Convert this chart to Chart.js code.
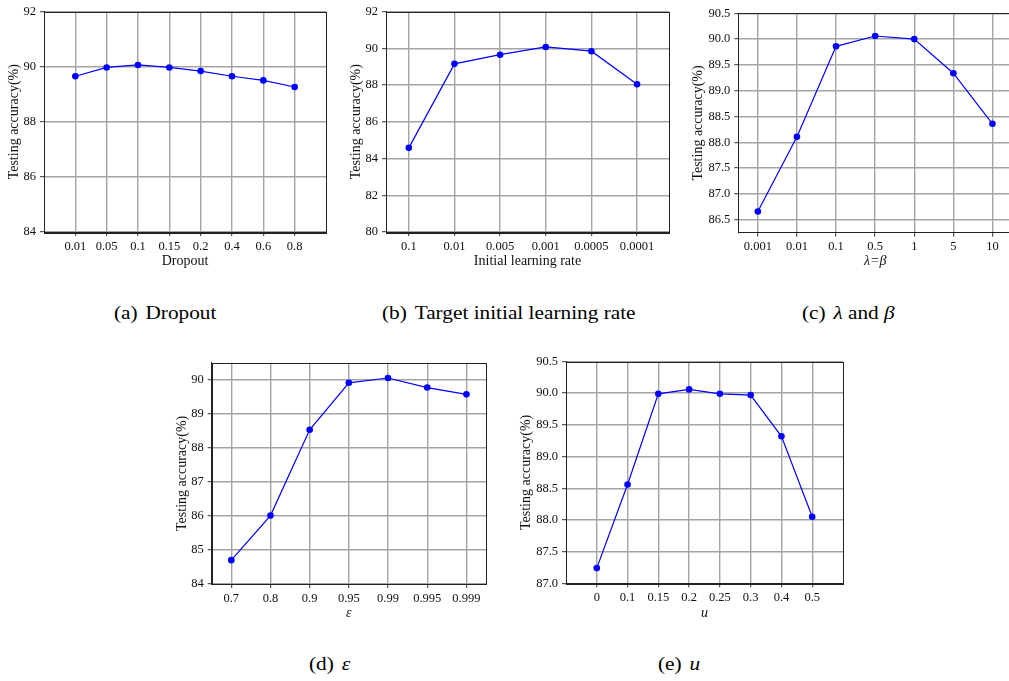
<!DOCTYPE html>
<html><head><meta charset="utf-8">
<script src="https://cdn.jsdelivr.net/npm/chart.js@4.4.0/dist/chart.umd.min.js"></script>
<style>
html,body{margin:0;padding:0;background:#fff;width:1009px;height:681px;overflow:hidden;position:relative}
canvas{position:absolute}
.cap{position:absolute;font-family:'Liberation Serif','Times New Roman',serif;font-size:19px;color:#000;white-space:nowrap;transform:scaleX(1.12);transform-origin:0 50%;line-height:20px}
.cap i{font-style:italic}
.cap .g{margin-left:7px}
</style></head><body>
<canvas id="ca" width="340" height="272" style="left:0px;top:0px"></canvas>
<canvas id="cb" width="340" height="272" style="left:340px;top:0px"></canvas>
<canvas id="cc" width="340" height="272" style="left:680px;top:0px"></canvas>
<canvas id="cd" width="340" height="274" style="left:160px;top:350px"></canvas>
<canvas id="ce" width="355" height="274" style="left:500px;top:350px"></canvas>
<div class="cap" style="left:114px;top:303px">(a)<span class="g">Dropout</span></div>
<div class="cap" style="left:382px;top:303px">(b)<span class="g">Target initial learning rate</span></div>
<div class="cap" style="left:802px;top:303px">(c)<span class="g"><i>λ</i> and <i>β</i></span></div>
<div class="cap" style="left:309px;top:654px">(d)<span class="g"><i>ε</i></span></div>
<div class="cap" style="left:658px;top:654px">(e)<span class="g"><i>u</i></span></div>
<script>
// ---- data ----
const dropoutLabels = ['0.01','0.05','0.1','0.15','0.2','0.4','0.6','0.8'];
const dropoutAcc = [89.65, 89.97, 90.06, 89.97, 89.84, 89.65, 89.50, 89.26];
const lrLabels = ['0.1','0.01','0.005','0.001','0.0005','0.0001'];
const lrAcc = [84.58, 89.15, 89.65, 90.07, 89.84, 88.04];
const lambdaLabels = ['0.001','0.01','0.1','0.5','1','5','10'];
const lambdaAcc = [86.66, 88.11, 89.86, 90.06, 90.00, 89.34, 88.36];
const epsLabels = ['0.7','0.8','0.9','0.95','0.99','0.995','0.999'];
const epsAcc = [84.70, 86.01, 88.53, 89.91, 90.05, 89.77, 89.57];
const uLabels = ['0','0.1','0.15','0.2','0.25','0.3','0.4','0.5'];
const uAcc = [87.24, 88.56, 89.99, 90.06, 89.99, 89.97, 89.32, 88.05];
const yTicksA = [84, 86, 88, 90, 92];
const yTicksB = [80, 82, 84, 86, 88, 90, 92];
const yTicksC = [86.5, 87.0, 87.5, 88.0, 88.5, 89.0, 89.5, 90.0, 90.5];
const yTicksD = [84, 85, 86, 87, 88, 89, 90];
const yTicksE = [87.0, 87.5, 88.0, 88.5, 89.0, 89.5, 90.0, 90.5];
const yTitle = 'Testing accuracy(%)';

const FONT = "'Liberation Serif','Times New Roman',serif";
const framePlugin = {
  id: 'frame',
  beforeDatasetsDraw(chart) {
    const {ctx, chartArea: a} = chart;
    ctx.save();
    ctx.strokeStyle = '#222';
    ctx.lineWidth = 1;
    ctx.strokeRect(Math.round(a.left) + 0.5, Math.round(a.top) + 0.5,
      Math.round(a.right - a.left), Math.round(a.bottom - a.top));
    ctx.restore();
  }
};

function makeChart(id, labels, values, yTicks, dec, o) {
  new Chart(document.getElementById(id), {
    type: 'line',
    data: {
      datasets: [{
        data: values.map((v, i) => ({x: i, y: v})),
        borderColor: '#0000ff', borderWidth: 1.2,
        pointRadius: 3.3, pointHoverRadius: 3.3,
        pointBackgroundColor: '#0000ff', pointBorderWidth: 0,
        tension: 0, fill: false
      }]
    },
    options: {
      responsive: false, animation: false, events: [],
      layout: {autoPadding: false, padding: o.pad},
      plugins: {legend: {display: false}, tooltip: {enabled: false}},
      scales: {
        x: {
          type: 'linear', min: o.xMin, max: o.xMax,
          afterBuildTicks: s => { s.ticks = labels.map((_, i) => ({value: i})); },
          afterFit: s => { s.height = o.xH; },
          ticks: {callback: v => labels[Math.round(v)], maxRotation: 0, autoSkip: false,
            color: '#111', padding: 3, font: {family: FONT, size: 12.5}},
          grid: {color: '#a4a4a4', lineWidth: 1.4, tickLength: 4, tickColor: '#333', tickWidth: 1},
          border: {display: true, color: '#222', width: 1},
          title: {display: true, text: o.xTitle, color: '#111',
            font: {family: FONT, size: 14, style: o.xItalic ? 'italic' : 'normal'},
            padding: {top: 0, bottom: o.xtPad}}
        },
        y: {
          type: 'linear', min: o.yMin, max: o.yMax,
          afterBuildTicks: s => { s.ticks = yTicks.map(v => ({value: v})); },
          afterFit: s => { s.width = o.yW; },
          ticks: {callback: v => Number(v).toFixed(dec), color: '#111', padding: 4,
            font: {family: FONT, size: 12.5}},
          grid: {color: '#a4a4a4', lineWidth: 1.4, tickLength: 4, tickColor: '#333', tickWidth: 1},
          border: {display: true, color: '#222', width: 1},
          title: {display: true, text: yTitle, color: '#111',
            font: {family: FONT, size: 14}, padding: {top: o.ytPad, bottom: 0}}
        }
      }
    },
    plugins: [framePlugin]
  });
}

makeChart('ca', dropoutLabels, dropoutAcc, yTicksA, 0, {
  xMin: -1, xMax: 8, yMin: 84, yMax: 92, pad: {left: 0, top: 5, right: 14, bottom: 0},
  yW: 44, xH: 40, xTitle: 'Dropout', xItalic: false, xtPad: 2, ytPad: 5.6});
makeChart('cb', lrLabels, lrAcc, yTicksB, 0, {
  xMin: -0.5, xMax: 5.7, yMin: 80, yMax: 92, pad: {left: 0, top: 5, right: 11, bottom: 0},
  yW: 46, xH: 40, xTitle: 'Initial learning rate', xItalic: false, xtPad: 2, ytPad: 7.6});
makeChart('cc', lambdaLabels, lambdaAcc, yTicksC, 1, {
  xMin: -0.5, xMax: 6.5, yMin: 86.25, yMax: 90.5, pad: {left: 0, top: 13.3, right: 8, bottom: 0},
  yW: 58.3, xH: 39.3, xTitle: 'λ=β', xItalic: true, xtPad: 2, ytPad: 9.5});
makeChart('cd', epsLabels, epsAcc, yTicksD, 0, {
  xMin: -0.5, xMax: 6.5, yMin: 84, yMax: 90.5, pad: {left: 0, top: 12.7, right: 14, bottom: 0},
  yW: 51.7, xH: 40, xTitle: 'ε', xItalic: true, xtPad: 2.6, ytPad: 14.3});
makeChart('ce', uLabels, uAcc, yTicksE, 1, {
  xMin: -1, xMax: 8, yMin: 87, yMax: 90.5, pad: {left: 0, top: 10, right: 12, bottom: 0},
  yW: 66, xH: 40.7, xTitle: 'u', xItalic: true, xtPad: 2.6, ytPad: 17.5});
</script>
</body></html>
